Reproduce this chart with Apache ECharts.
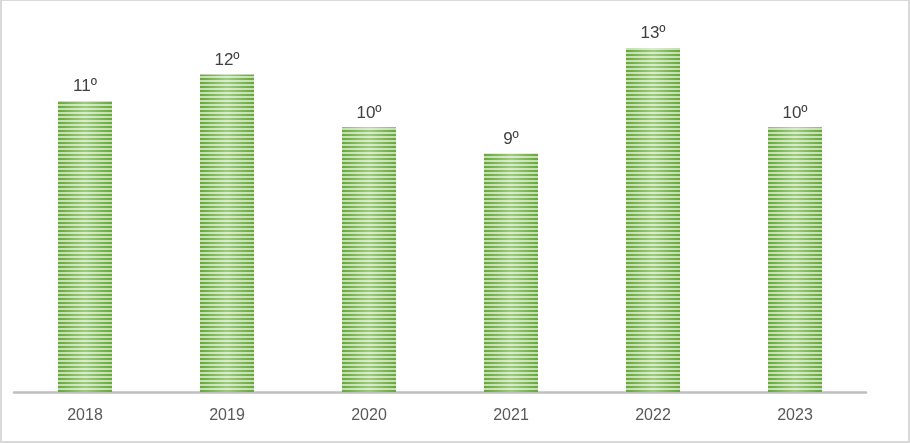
<!DOCTYPE html>
<html>
<head>
<meta charset="utf-8">
<script src="https://cdn.jsdelivr.net/npm/echarts@6/dist/echarts.min.js"></script>
<style>
html,body{margin:0;padding:0;background:#fff;}
#wrap{position:relative;width:910px;height:443px;}
#chart{position:absolute;left:0;top:0;width:910px;height:443px;}
#frame{position:absolute;left:0;top:0;width:910px;height:443px;box-sizing:border-box;border-style:solid;border-color:#d9d9d9;border-width:1px 2px 2px 2px;pointer-events:none;}
</style>
</head>
<body>
<div id="wrap"><div id="chart"></div><div id="frame"></div></div>
<script>
const categories = ['2018', '2019', '2020', '2021', '2022', '2023'];
const rankings = [11, 12, 10, 9, 13, 10];
const labelSuffix = 'º';

const chart = echarts.init(document.getElementById('chart'));
chart.setOption({
  animation: false,
  backgroundColor: '#ffffff',
  grid: { left: 14, right: 44, top: 21.5, bottom: 51, containLabel: false },
  xAxis: {
    type: 'category',
    data: categories,
    axisLine: { show: true, lineStyle: { color: '#bfbfbf', width: 2.5 } },
    axisTick: { show: false },
    axisLabel: { color: '#595959', fontSize: 16, fontFamily: 'Liberation Sans, Arial, sans-serif', margin: 16 }
  },
  yAxis: {
    type: 'value',
    min: 0,
    max: 14,
    show: false,
    splitLine: { show: false }
  },
  series: [{
    type: 'bar',
    data: rankings,
    barWidth: '38%',
    itemStyle: {
      color: {
        type: 'linear', x: 0, y: 0, x2: 1, y2: 0,
        colorStops: [
          { offset: 0, color: '#64a836' },
          { offset: 0.5, color: '#9ccc7c' },
          { offset: 1, color: '#64a836' }
        ]
      },
      decal: {
        symbol: 'rect',
        symbolSize: 1,
        dashArrayX: [1, 0],
        dashArrayY: [2, 2],
        rotation: 0,
        color: 'rgba(255,255,255,0.62)'
      }
    },
    label: {
      show: true,
      position: 'top',
      distance: 6,
      color: '#404040',
      fontSize: 17,
      fontFamily: 'Liberation Sans, Arial, sans-serif',
      formatter: p => p.value + labelSuffix
    }
  }]
});
</script>
</body>
</html>
